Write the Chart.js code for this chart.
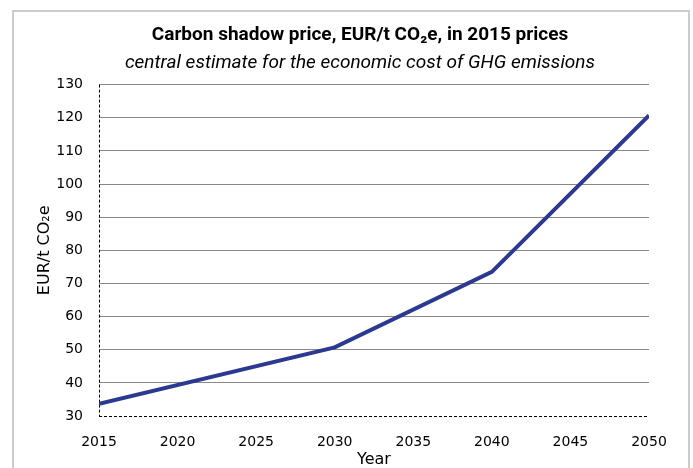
<!DOCTYPE html>
<html lang="en">
<head>
    <meta charset="UTF-8">
    <title>Carbon shadow price</title>
    <script src="https://cdn.jsdelivr.net/npm/chart.js"></script>
    <style>
        html, body { margin: 0; padding: 0; background: #fff; }
        #wrap { width: 693px; height: 468px; }
    </style>
</head>
<body>
    <div id="wrap"><canvas id="myChart" width="693" height="468"></canvas></div>
    <script>
        var years = [2015, 2030, 2040, 2050];
        var prices = [33.7, 50.7, 73.5, 120.7];
        var xTicks = [2015, 2020, 2025, 2030, 2035, 2040, 2045, 2050];

        // light grey frame round the whole figure
        var framePlugin = {
            id: 'frame',
            beforeDraw: function(chart) {
                var c = chart.ctx;
                c.save();
                c.strokeStyle = '#cccccc';
                c.lineWidth = 2;
                c.strokeRect(13, 11, 676, 520);
                c.restore();
            }
        };

        // dashed axis lines on the left and bottom of the plot
        var dashedAxes = {
            id: 'dashedAxes',
            beforeDatasetsDraw: function(chart) {
                var a = chart.chartArea, c = chart.ctx;
                c.save();
                c.strokeStyle = '#000';
                c.lineWidth = 1;
                c.setLineDash([3, 2]);
                c.beginPath();
                c.moveTo(a.left + 0.5, a.top);
                c.lineTo(a.left + 0.5, a.bottom);
                c.moveTo(a.left, a.bottom + 0.5);
                c.lineTo(a.right, a.bottom + 0.5);
                c.stroke();
                c.restore();
            }
        };

        var ctx = document.getElementById('myChart').getContext('2d');
        var myChart = new Chart(ctx, {
            type: 'line',
            data: {
                datasets: [{
                    label: 'Carbon shadow price',
                    data: years.map(function(y, i) { return { x: y, y: prices[i] }; }),
                    borderColor: '#2b3990',
                    borderWidth: 4,
                    pointRadius: 0,
                    tension: 0,
                    fill: false
                }]
            },
            options: {
                responsive: false,
                animation: false,
                layout: { padding: { left: 27, right: 0, top: 0, bottom: 0 } },
                plugins: {
                    legend: { display: false },
                    tooltip: { enabled: false },
                    title: {
                        display: true,
                        text: 'Carbon shadow price, EUR/t CO\u2082e, in 2015 prices',
                        color: '#000',
                        font: { family: 'Roboto', size: 19, weight: 'bold' },
                        padding: { top: 24, bottom: 5 }
                    },
                    subtitle: {
                        display: true,
                        text: 'central estimate for the economic cost of GHG emissions',
                        color: '#000',
                        font: { family: 'Roboto', size: 19, style: 'italic' },
                        padding: { top: 0, bottom: 10 }
                    }
                },
                scales: {
                    x: {
                        type: 'linear',
                        min: 2015,
                        max: 2050,
                        afterBuildTicks: function(scale) {
                            scale.ticks = xTicks.map(function(v) { return { value: v }; });
                        },
                        afterFit: function(scale) { scale.height = 52; },
                        grid: { display: false, drawTicks: false },
                        border: { display: false },
                        ticks: {
                            color: '#000',
                            padding: 18,
                            font: { family: 'DejaVu Sans', size: 14 },
                            maxRotation: 0,
                            callback: function(v) { return String(v); }
                        },
                        title: {
                            display: true,
                            text: 'Year',
                            color: '#000',
                            font: { family: 'DejaVu Sans', size: 16, lineHeight: 1 },
                            padding: { top: 0, bottom: 0 }
                        }
                    },
                    y: {
                        min: 30,
                        max: 130,
                        afterFit: function(scale) { scale.width = 72; },
                        grid: {
                            drawTicks: false,
                            lineWidth: 1,
                            color: function(c) { return c.tick && c.tick.value === 30 ? 'rgba(0,0,0,0)' : '#888888'; }
                        },
                        border: { display: false },
                        ticks: {
                            stepSize: 10,
                            color: '#000',
                            padding: 16,
                            font: { family: 'DejaVu Sans', size: 14 }
                        },
                        title: {
                            display: true,
                            text: 'EUR/t CO\u2082e',
                            color: '#000',
                            font: { family: 'DejaVu Sans', size: 16 },
                            padding: { top: 8, bottom: 0 }
                        }
                    },
                    // empty right-hand box that keeps space to the right of the plot
                    yRight: {
                        position: 'right',
                        display: true,
                        afterFit: function(scale) { scale.width = 44; },
                        grid: { display: false, drawTicks: false },
                        border: { display: false },
                        ticks: { display: false }
                    }
                }
            },
            plugins: [framePlugin, dashedAxes]
        });
    </script>
</body>
</html>
